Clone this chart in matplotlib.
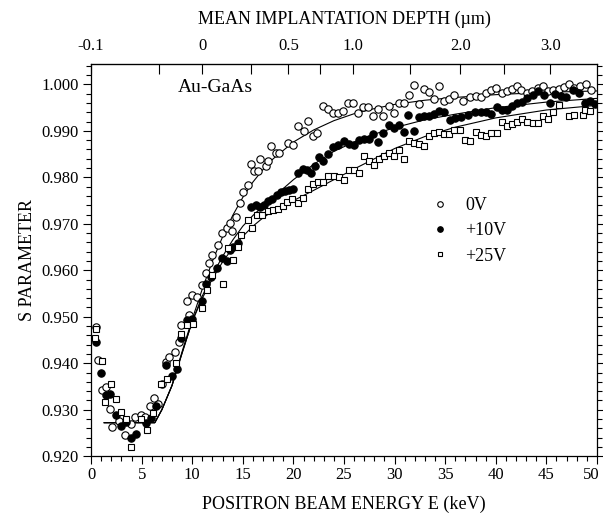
import matplotlib

matplotlib.use("Agg")
import matplotlib.pyplot as plt
import matplotlib.transforms as mtransforms
from matplotlib.lines import Line2D
from matplotlib.ticker import MultipleLocator, FixedLocator

plt.rcParams["font.family"] = "serif"
plt.rcParams["font.serif"] = ["Liberation Serif", "DejaVu Serif"]

# --- data ---------------------------------------------------------------
# 0V (open circles)
e_0v = [0.45, 0.65, 1.1, 1.45, 1.9, 2.1, 2.8, 3.4, 3.9, 4.3,
        4.9, 5.3, 5.8, 6.2, 6.6, 7.0, 7.45, 7.7, 8.3, 8.65,
        8.9, 9.45, 9.7, 10.0, 10.5, 11.0, 11.4, 11.7, 12.0, 12.5,
        12.9, 13.4, 13.7, 13.9, 14.35, 14.75, 15.0, 15.5, 15.85, 16.1,
        16.5, 16.7, 17.3, 17.5, 17.8, 18.3, 18.6, 19.5, 20.0, 20.5,
        21.0, 21.4, 21.9, 22.3, 22.9, 23.4, 23.9, 24.4, 24.9, 25.4,
        25.9, 26.4, 26.9, 27.4, 27.9, 28.4, 28.9, 29.4, 29.9, 30.4,
        30.9, 31.4, 31.9, 32.4, 32.9, 33.4, 33.9, 34.4, 34.9, 35.4,
        35.9, 36.8, 37.5, 38.0, 38.5, 39.0, 39.55, 40.0, 40.6, 41.1,
        41.6, 42.1, 42.5, 43.1, 43.6, 44.2, 44.7, 45.2, 45.7, 46.2,
        46.7, 47.2, 47.7, 48.3, 48.9, 49.4]
s_0v = [0.9477, 0.9407, 0.9342, 0.9348, 0.9302, 0.9263, 0.9275, 0.9245, 0.9270, 0.9284,
        0.9288, 0.9285, 0.9308, 0.9326, 0.9313, 0.9356, 0.9403, 0.9413, 0.9425, 0.9445,
        0.9482, 0.9534, 0.9504, 0.9547, 0.9543, 0.9569, 0.9594, 0.9615, 0.9633, 0.9655,
        0.9680, 0.9691, 0.9702, 0.9684, 0.9714, 0.9745, 0.9769, 0.9783, 0.9828, 0.9813,
        0.9813, 0.9839, 0.9824, 0.9835, 0.9867, 0.9853, 0.9853, 0.9875, 0.9870, 0.9911,
        0.9900, 0.9921, 0.9889, 0.9896, 0.9954, 0.9947, 0.9939, 0.9939, 0.9943, 0.9961,
        0.9961, 0.9939, 0.9952, 0.9952, 0.9932, 0.9947, 0.9932, 0.9954, 0.9939, 0.9960,
        0.9961, 0.9978, 0.9999, 0.9957, 0.9990, 0.9983, 0.9968, 0.9997, 0.9965, 0.9968,
        0.9978, 0.9964, 0.9973, 0.9976, 0.9973, 0.9981, 0.9988, 0.9993, 0.9981, 0.9985,
        0.9990, 0.9996, 0.9988, 0.9981, 0.9985, 0.9992, 0.9996, 0.9985, 0.9988, 0.9990,
        0.9995, 1.0000, 0.9992, 0.9996, 1.0000, 0.9988]

# +10V (filled circles)
e_10v = [0.45, 1.0, 1.5, 1.9, 2.5, 3.0, 3.5, 3.9, 4.4, 5.45,
         5.9, 6.4, 7.4, 8.0, 8.5, 8.9, 9.5, 10.0, 11.0, 11.4,
         11.9, 12.4, 12.9, 13.4, 13.7, 14.0, 14.5, 15.8, 16.3, 16.7,
         17.1, 17.5, 17.9, 18.4, 18.8, 19.2, 19.6, 20.0, 20.5, 20.9,
         21.3, 21.7, 22.1, 22.5, 22.9, 23.4, 23.9, 24.4, 25.0, 25.5,
         26.0, 26.5, 27.0, 27.5, 27.9, 28.4, 28.9, 29.4, 29.9, 30.4,
         30.95, 31.35, 31.9, 32.4, 32.9, 33.4, 33.9, 34.4, 34.9, 35.5,
         35.95, 36.6, 37.3, 37.95, 38.5, 39.0, 39.55, 40.1, 40.6, 41.1,
         41.6, 42.1, 42.6, 43.1, 43.65, 44.2, 44.8, 45.4, 45.9, 46.4,
         46.9, 47.6, 48.2, 48.8, 49.3, 49.8]
s_10v = [0.9445, 0.9380, 0.9332, 0.9333, 0.9288, 0.9265, 0.9273, 0.9238, 0.9248, 0.9272,
         0.9283, 0.9308, 0.9396, 0.9372, 0.9388, 0.9454, 0.9493, 0.9495, 0.9533, 0.9570,
         0.9586, 0.9605, 0.9626, 0.9619, 0.9644, 0.9651, 0.9659, 0.9736, 0.9740, 0.9736,
         0.9741, 0.9749, 0.9754, 0.9763, 0.9769, 0.9770, 0.9772, 0.9776, 0.9810, 0.9819,
         0.9815, 0.9810, 0.9825, 0.9844, 0.9835, 0.9851, 0.9865, 0.9870, 0.9878, 0.9872,
         0.9870, 0.9880, 0.9882, 0.9882, 0.9893, 0.9877, 0.9896, 0.9912, 0.9907, 0.9912,
         0.9898, 0.9934, 0.9900, 0.9930, 0.9932, 0.9932, 0.9937, 0.9943, 0.9941, 0.9923,
         0.9927, 0.9930, 0.9934, 0.9941, 0.9941, 0.9940, 0.9936, 0.9951, 0.9944, 0.9946,
         0.9953, 0.9959, 0.9962, 0.9970, 0.9978, 0.9985, 0.9978, 0.9959, 0.9979, 0.9976,
         0.9973, 0.9988, 0.9981, 0.9959, 0.9964, 0.9957]

# +25V (open squares)
e_25v = [0.4, 0.45, 1.05, 1.4, 2.0, 2.5, 3.0, 3.5, 3.95, 4.95,
         5.5, 6.1, 6.9, 7.5, 8.4, 8.9, 9.5, 10.1, 11.0, 11.5,
         12.0, 13.0, 13.5, 14.0, 14.5, 14.85, 15.5, 15.9, 16.4, 16.9,
         17.5, 18.0, 18.5, 19.0, 19.4, 19.9, 20.5, 20.95, 21.45, 21.9,
         22.4, 22.9, 23.4, 24.0, 24.5, 25.0, 25.5, 26.0, 26.5, 27.0,
         27.5, 28.0, 28.5, 29.0, 29.45, 29.9, 30.4, 30.95, 31.45, 31.9,
         32.4, 32.9, 33.4, 33.9, 34.4, 34.9, 35.4, 35.9, 36.5, 37.0,
         37.5, 38.0, 38.5, 39.0, 39.55, 40.1, 40.6, 41.1, 41.6, 42.1,
         42.6, 43.1, 43.65, 44.2, 44.7, 45.2, 45.7, 46.2, 47.2, 47.7,
         48.6, 48.8, 49.3]
s_25v = [0.9455, 0.9473, 0.9404, 0.9316, 0.9355, 0.9322, 0.9296, 0.9281, 0.9220, 0.9280,
         0.9256, 0.9293, 0.9356, 0.9366, 0.9401, 0.9463, 0.9482, 0.9484, 0.9519, 0.9557,
         0.9590, 0.9570, 0.9648, 0.9623, 0.9651, 0.9677, 0.9709, 0.9691, 0.9720, 0.9718,
         0.9727, 0.9729, 0.9731, 0.9738, 0.9747, 0.9754, 0.9745, 0.9756, 0.9776, 0.9785,
         0.9790, 0.9791, 0.9803, 0.9803, 0.9800, 0.9795, 0.9815, 0.9815, 0.9810, 0.9846,
         0.9835, 0.9826, 0.9839, 0.9846, 0.9853, 0.9846, 0.9859, 0.9839, 0.9878, 0.9875,
         0.9872, 0.9867, 0.9889, 0.9896, 0.9898, 0.9893, 0.9893, 0.9901, 0.9901, 0.9880,
         0.9878, 0.9897, 0.9892, 0.9889, 0.9895, 0.9895, 0.9919, 0.9910, 0.9914, 0.9919,
         0.9925, 0.9919, 0.9918, 0.9916, 0.9933, 0.9925, 0.9940, 0.9955, 0.9931, 0.9934,
         0.9934, 0.9944, 0.9942]

# fitted curves (solid lines)
fit_e = [1.3, 6.3, 7, 8, 9, 10, 11, 12, 13, 14, 15, 16, 17, 18,
         20, 22, 24, 26, 28, 30, 33, 36, 40, 45, 50]
fit_0v = [0.9272, 0.9272, 0.9300, 0.9352, 0.9425, 0.9495, 0.9560, 0.9620, 0.9672,
          0.9718, 0.9757, 0.9790, 0.9817, 0.9840, 0.9876, 0.9902, 0.9922, 0.9937,
          0.9948, 0.9957, 0.9966, 0.9972, 0.9978, 0.9983, 0.9986]
fit_10v = [0.9272, 0.9272, 0.9300, 0.9352, 0.9422, 0.9490, 0.9545, 0.9590, 0.9630,
           0.9665, 0.9695, 0.9718, 0.9738, 0.9757, 0.9795, 0.9828, 0.9856, 0.9876,
           0.9893, 0.9907, 0.9924, 0.9936, 0.9950, 0.9962, 0.9970]
fit_25v = [0.9272, 0.9272, 0.9300, 0.9352, 0.9422, 0.9490, 0.9540, 0.9582, 0.9618,
           0.9648, 0.9673, 0.9695, 0.9713, 0.9728, 0.9750, 0.9772, 0.9795, 0.9818,
           0.9840, 0.9862, 0.9888, 0.9908, 0.9928, 0.9945, 0.9955]

# bottom axis ticks
energy_ticks = [0, 5, 10, 15, 20, 25, 30, 35, 40, 45, 50]

# top axis: depth labels and the beam energy where they sit
depth_labels = ["-0.1", "0", "0.5", "1.0", "2.0", "3.0"]
depth_at_energy = [0.0, 11.0, 19.5, 25.9, 36.5, 45.4]
depth_minor_at_energy = [6.7, 15.8, 22.6, 31.5, 40.8]

fig = plt.figure(figsize=(6.03, 5.16), dpi=100)
ax = fig.add_axes([0.151, 0.116, 0.839, 0.760])

for s_fit in (fit_0v, fit_10v, fit_25v):
    ax.plot(fit_e, s_fit, color="black", lw=0.8, zorder=2)

ax.plot(e_0v, s_0v, ls="none", marker="o", ms=5.3, mfc="white", mec="black", mew=0.8, zorder=3)
ax.plot(e_10v, s_10v, ls="none", marker="o", ms=5.3, mfc="black", mec="black", mew=0.8, zorder=3)
ax.plot(e_25v, s_25v, ls="none", marker="s", ms=5.0, mfc="white", mec="black", mew=0.8, zorder=3)

ax.set_xlim(0, 50)
ax.set_ylim(0.920, 1.0044)
ax.xaxis.set_major_locator(FixedLocator(energy_ticks))
ax.xaxis.set_minor_locator(MultipleLocator(1))
ax.yaxis.set_major_locator(MultipleLocator(0.01))
ax.yaxis.set_minor_locator(MultipleLocator(0.002))
ax.yaxis.set_major_formatter(plt.FormatStrFormatter("%.3f"))
ax.tick_params(axis="both", which="major", direction="out", length=6, width=0.8,
               labelsize=12, pad=3)
ax.tick_params(axis="x", which="major", pad=2)
ax.tick_params(axis="both", which="minor", direction="out", length=3.5, width=0.8)
ax.tick_params(axis="y", which="both", right=True)
for sp in ax.spines.values():
    sp.set_linewidth(0.9)

ax.set_xlabel("POSITRON BEAM ENERGY E (keV)", fontsize=13, labelpad=9)
ax.set_ylabel("S PARAMETER", fontsize=13, labelpad=4)

top = ax.secondary_xaxis("top")
top.xaxis.set_major_locator(FixedLocator(depth_at_energy))
top.xaxis.set_minor_locator(FixedLocator(depth_minor_at_energy))
top.set_xticklabels(depth_labels)
top.tick_params(which="both", direction="in", length=7, width=0.8, labelsize=12, pad=7)
top.set_xlabel("MEAN IMPLANTATION DEPTH (\u00b5m)", fontsize=13, labelpad=10)

ax.text(8.6, 0.9993, "Au-GaAs", fontsize=14, va="center", ha="left")

handles = [
    Line2D([], [], ls="none", marker="o", ms=4, mfc="white", mec="black", mew=0.8, label="0V"),
    Line2D([], [], ls="none", marker="o", ms=4, mfc="black", mec="black", mew=0.8, label="+10V"),
    Line2D([], [], ls="none", marker="s", ms=3.5, mfc="white", mec="black", mew=0.8, label="+25V"),
]
ax.legend(handles=handles, loc="upper left", bbox_to_anchor=(0.672, 0.66),
          frameon=False, fontsize=13, handlelength=1.0, handletextpad=0.9,
          labelspacing=0.45, borderpad=0, borderaxespad=0)

# keep the last energy label ("50") inside the canvas
last_tick = ax.xaxis.get_major_ticks()[len(energy_ticks) - 1]
last_tick.label1.set_transform(
    last_tick.label1.get_transform()
    + mtransforms.ScaledTranslation(-4 / 72, 0, fig.dpi_scale_trans))

fig.savefig("out.png", dpi=100)
